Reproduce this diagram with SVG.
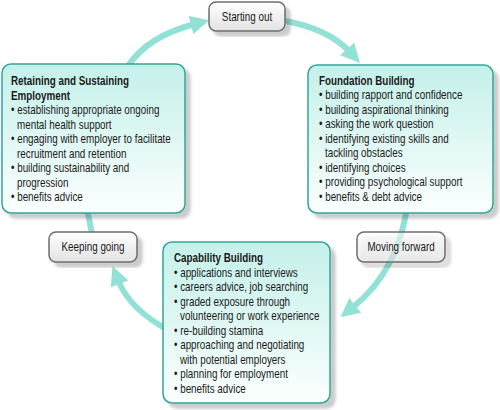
<svg xmlns="http://www.w3.org/2000/svg" width="500" height="410" viewBox="0 0 500 410">
<style>
text{font-family:"Liberation Sans",Arial,sans-serif;font-size:12px;fill:#1a1a1a}
.h{font-weight:bold}
.main{fill:url(#gMain);stroke:#2fa69b;stroke-width:1.5}
.lab{fill:url(#gLab);stroke:#6e6e6e;stroke-width:1.5}
.arc{fill:none;stroke:#92e1d5;stroke-width:6;marker-end:url(#ah)}
.arcn{fill:none;stroke:#92e1d5;stroke-width:6}
.lt{text-anchor:middle}
</style>
<defs>
<linearGradient id="gMain" x1="0" y1="0" x2="0" y2="1">
<stop offset="0" stop-color="#c4f0e9"/>
<stop offset="1" stop-color="#fbfffe"/>
</linearGradient>
<linearGradient id="gLab" x1="0" y1="0" x2="0" y2="1">
<stop offset="0" stop-color="#ffffff"/>
<stop offset="1" stop-color="#e2e2e2"/>
</linearGradient>
<filter id="sh" x="-10%" y="-10%" width="130%" height="130%">
<feDropShadow dx="5" dy="5" stdDeviation="1.5" flood-color="#000" flood-opacity="0.2"/>
</filter>
<marker id="ah" viewBox="0 0 18 18" markerWidth="19" markerHeight="19" refX="4" refY="9" orient="auto" markerUnits="userSpaceOnUse">
<path d="M0,0 L18,9 L0,18 z" fill="#92e1d5"/>
</marker>
</defs>

<g id="connectors">
<path class="arc" d="M128,66 Q148,36 195,24"/>
<path class="arc" d="M280,20 Q328,28 350,52"/>
<path class="arc" d="M408,200 Q400,270 352,308"/>
<path class="arc" d="M170,331 Q130,310 118,280"/>
<path class="arcn" d="M93,240 Q90,222 86,205"/>
</g>

<g id="retaining">
<rect class="main" x="2" y="64" width="183" height="149" rx="9" filter="url(#sh)"/>
<text class="h" transform="translate(11,85) scale(0.82,1)">Retaining and Sustaining</text>
<text class="h" transform="translate(11,99.5) scale(0.82,1)">Employment</text>
<text transform="translate(11,114) scale(0.82,1)">• establishing appropriate ongoing</text>
<text transform="translate(17,128.5) scale(0.82,1)">mental health support</text>
<text transform="translate(11,143) scale(0.82,1)">• engaging with employer to facilitate</text>
<text transform="translate(17,157.5) scale(0.82,1)">recruitment and retention</text>
<text transform="translate(11,172) scale(0.82,1)">• building sustainability and</text>
<text transform="translate(17,186.5) scale(0.82,1)">progression</text>
<text transform="translate(11,201) scale(0.82,1)">• benefits advice</text>
</g>

<g id="foundation">
<rect class="main" x="308" y="65" width="185" height="148" rx="9" filter="url(#sh)"/>
<text class="h" transform="translate(319,84.5) scale(0.82,1)">Foundation Building</text>
<text transform="translate(319,99) scale(0.82,1)">• building rapport and confidence</text>
<text transform="translate(319,113.5) scale(0.82,1)">• building aspirational thinking</text>
<text transform="translate(319,128) scale(0.82,1)">• asking the work question</text>
<text transform="translate(319,142.5) scale(0.82,1)">• identifying existing skills and</text>
<text transform="translate(325,157) scale(0.82,1)">tackling obstacles</text>
<text transform="translate(319,171.5) scale(0.82,1)">• identifying choices</text>
<text transform="translate(319,186) scale(0.82,1)">• providing psychological support</text>
<text transform="translate(319,200.5) scale(0.82,1)">• benefits &amp; debt advice</text>
</g>

<g id="capability">
<rect class="main" x="163" y="242" width="167" height="161" rx="9" filter="url(#sh)"/>
<text class="h" transform="translate(174,262) scale(0.82,1)">Capability Building</text>
<text transform="translate(174,276.5) scale(0.82,1)">• applications and interviews</text>
<text transform="translate(174,291) scale(0.82,1)">• careers advice, job searching</text>
<text transform="translate(174,305.5) scale(0.82,1)">• graded exposure through</text>
<text transform="translate(180,320) scale(0.82,1)">volunteering or work experience</text>
<text transform="translate(174,334.5) scale(0.82,1)">• re-building stamina</text>
<text transform="translate(174,349) scale(0.82,1)">• approaching and negotiating</text>
<text transform="translate(180,363.5) scale(0.82,1)">with potential employers</text>
<text transform="translate(174,378) scale(0.82,1)">• planning for employment</text>
<text transform="translate(174,392.5) scale(0.82,1)">• benefits advice</text>
</g>

<g id="starting-out">
<rect class="lab" x="209" y="2" width="76" height="29" rx="7" filter="url(#sh)"/>
<text class="lt" transform="translate(247,20.5) scale(0.82,1)">Starting out</text>
</g>

<g id="keeping-going">
<rect class="lab" x="49" y="232" width="88" height="30" rx="7" filter="url(#sh)"/>
<text class="lt" transform="translate(93,251) scale(0.82,1)">Keeping going</text>
</g>

<g id="moving-forward">
<rect class="lab" x="357" y="232" width="88" height="30" rx="7" filter="url(#sh)" fill-opacity="0.6"/>
<text class="lt" transform="translate(401,251) scale(0.82,1)">Moving forward</text>
</g>
</svg>
